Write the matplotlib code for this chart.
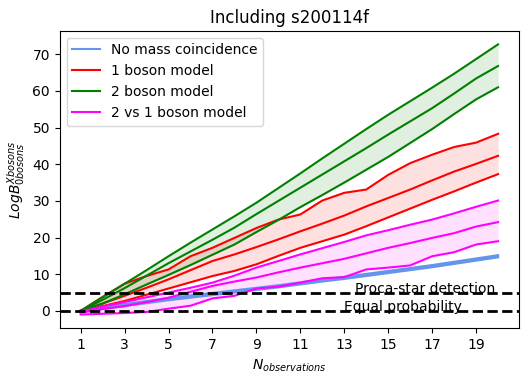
import numpy as np
import matplotlib.pyplot as plt

# number of observations
n_obs = [1, 2, 3, 4, 5, 6, 7, 8, 9, 10, 11, 12, 13, 14, 15, 16, 17, 18, 19, 20]

# no mass coincidence
blue_lo = [-0.2, 0.5, 1.3, 2.1, 2.9, 3.6, 4.3, 5.0, 5.7, 6.4, 7.2, 8.0, 8.7, 9.5, 10.3, 11.1, 11.9, 12.8, 13.7, 14.6]
blue_mid = [0.0, 0.8, 1.6, 2.4, 3.2, 3.9, 4.6, 5.3, 6.0, 6.7, 7.5, 8.3, 9.0, 9.8, 10.6, 11.4, 12.2, 13.1, 14.0, 14.9]
blue_hi = [0.2, 1.1, 1.9, 2.7, 3.5, 4.2, 4.9, 5.6, 6.3, 7.0, 7.8, 8.6, 9.3, 10.1, 10.9, 11.7, 12.5, 13.4, 14.3, 15.2]

# 1 boson model
red_lo = [0.0, 1.3, 2.7, 4.4, 6.1, 7.8, 9.5, 10.9, 12.7, 15.0, 17.2, 19.0, 20.8, 23.1, 25.5, 27.9, 30.3, 32.6, 35.0, 37.3]
red_mid = [0.0, 2.0, 4.1, 6.3, 8.6, 11.1, 13.6, 15.4, 17.4, 19.5, 21.7, 23.8, 26.0, 28.5, 30.8, 33.1, 35.6, 38.0, 40.1, 42.3]
red_hi = [0.0, 3.8, 7.4, 9.5, 11.3, 14.9, 17.2, 19.9, 22.6, 24.9, 26.3, 30.1, 32.2, 33.1, 37.1, 40.3, 42.6, 44.7, 45.9, 48.3]

# 2 boson model
green_lo = [0.0, 2.0, 4.5, 7.2, 9.8, 12.5, 15.3, 18.1, 21.5, 24.8, 28.3, 31.6, 35.0, 38.5, 42.0, 45.8, 49.6, 53.7, 57.7, 61.0]
green_mid = [0.0, 3.0, 6.2, 9.6, 13.0, 16.2, 19.4, 22.7, 26.4, 30.0, 33.6, 37.2, 40.8, 44.4, 48.1, 51.7, 55.3, 59.3, 63.4, 66.8]
green_hi = [0.0, 3.7, 7.4, 11.1, 14.9, 18.6, 22.2, 25.8, 29.5, 33.5, 37.5, 41.6, 45.6, 49.6, 53.5, 57.2, 60.9, 64.7, 68.7, 72.7]

# 2 vs 1 boson model
mag_lo = [-1.0, -0.8, -0.6, -0.3, 0.6, 1.4, 3.4, 4.1, 6.1, 6.6, 7.7, 8.9, 9.2, 11.3, 11.8, 12.4, 14.9, 16.0, 18.1, 19.0]
mag_mid = [-0.5, 0.5, 1.3, 2.4, 3.6, 5.2, 6.8, 8.0, 9.1, 10.5, 11.8, 13.0, 14.2, 15.7, 17.2, 18.5, 19.9, 21.2, 23.0, 24.2]
mag_hi = [-0.2, 1.2, 2.4, 3.7, 5.0, 6.3, 7.7, 9.6, 11.8, 13.6, 15.4, 17.1, 18.8, 20.6, 22.0, 23.5, 24.9, 26.6, 28.4, 30.1]

models = [
    ('No mass coincidence', 'cornflowerblue', blue_lo, blue_mid, blue_hi),
    ('1 boson model', 'red', red_lo, red_mid, red_hi),
    ('2 boson model', 'green', green_lo, green_mid, green_hi),
    ('2 vs 1 boson model', 'magenta', mag_lo, mag_mid, mag_hi),
]

fig = plt.figure(figsize=(5.29, 3.81), dpi=100)
ax = fig.add_axes([0.113, 0.139, 0.868, 0.780])

for label, c, lo, mid, hi in models:
    ax.fill_between(n_obs, lo, hi, color=c, alpha=0.12, lw=0)
    ax.plot(n_obs, lo, color=c, lw=1.5)
    ax.plot(n_obs, mid, color=c, lw=1.5, label=label)
    ax.plot(n_obs, hi, color=c, lw=1.5)

ax.axhline(5, color='k', ls='--', lw=2)
ax.axhline(0, color='k', ls='--', lw=2)
ax.text(13.5, 5, 'Proca-star detection', fontsize=10)
ax.text(13, 0, 'Equal probability', fontsize=10)

ax.set_xticks([1, 3, 5, 7, 9, 11, 13, 15, 17, 19])
ax.set_yticks([0, 10, 20, 30, 40, 50, 60, 70])
ax.set_xlabel('$N_{observations}$')
ax.set_ylabel('$LogB^{Xbosons}_{0bosons}$')
ax.set_title('Including s200114f')
ax.legend(loc='upper left', fontsize=10)

plt.savefig('out.png', dpi=100)
